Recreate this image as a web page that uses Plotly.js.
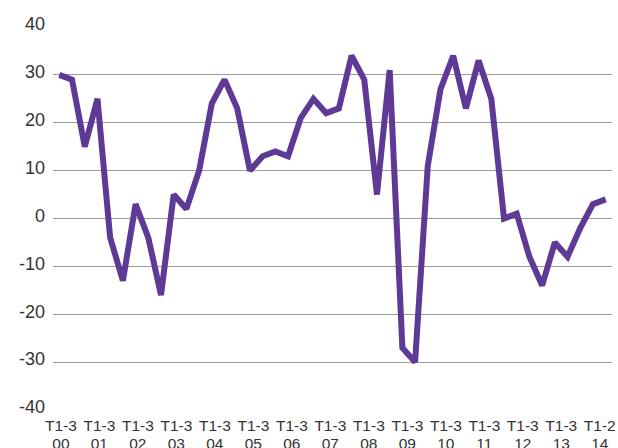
<!DOCTYPE html>
<html>
<head>
<meta charset="utf-8">
<script src="https://cdn.plot.ly/plotly-3.0.1.min.js"></script>
<style>html,body{margin:0;padding:0;background:#fff;}#chart{width:618px;height:448px;}</style>
</head>
<body>
<div id="chart"></div>
<script>
// Periods: three four-month periods (T1, T2, T3) per year, 2000 to 2014 T2
const years = ["00","01","02","03","04","05","06","07","08","09","10","11","12","13","14"];
const tickLabels = ["T1-3","T1-3","T1-3","T1-3","T1-3","T1-3","T1-3","T1-3","T1-3","T1-3","T1-3","T1-3","T1-3","T1-3","T1-2"];
const yTicks = [-40, -30, -20, -10, 0, 10, 20, 30, 40];
const yTickText = ["-40", "-30", "-20", "-10", "0", "10", "20", "30", "40"];
const values = [
  30, 29, 15,
  25, -4, -13,
  3, -4, -16,
  5, 2, 10,
  24, 29, 23,
  10, 13, 14,
  13, 21, 25,
  22, 23, 34,
  29, 5, 31,
  -27, -30, 11,
  27, 34, 23,
  33, 25, 0,
  1, -8, -14,
  -5, -8, -2,
  3, 4
];

const xIdx = values.map((_, i) => i);
const tickPos = years.map((_, i) => 0.12 + i * 3.03);

const family = "Liberation Sans, Arial, Helvetica, sans-serif";
const xFont = {family: family, size: 15.5, color: "#333333"};
const yFont = {family: family, size: 18, color: "#333333"};

const xCommon = {
  range: [-0.5, 43.5],
  showgrid: false,
  zeroline: false,
  showline: false,
  ticks: "",
  tickmode: "array",
  tickvals: tickPos,
  tickfont: xFont,
  automargin: false
};

Plotly.newPlot("chart", [{
  x: xIdx,
  y: values,
  type: "scatter",
  mode: "lines",
  line: {color: "#5f3996", width: 6},
  hoverinfo: "none"
}, {
  // empty helper trace so the year-label axis (second label row) is drawn
  x: [],
  y: [],
  xaxis: "x2",
  yaxis: "y",
  type: "scatter",
  mode: "lines",
  hoverinfo: "none"
}], {
  width: 618,
  height: 448,
  margin: {l: 53, r: 6, t: 27, b: 38, pad: 0},
  paper_bgcolor: "#ffffff",
  plot_bgcolor: "#ffffff",
  showlegend: false,
  font: xFont,
  xaxis: Object.assign({}, xCommon, {
    ticktext: tickLabels,
    ticklabelstandoff: 4
  }),
  xaxis2: Object.assign({}, xCommon, {
    ticktext: years,
    overlaying: "x",
    anchor: "y",
    side: "bottom",
    ticklabelstandoff: 22
  }),
  yaxis: {
    range: [-40, 40],
    tickmode: "array",
    tickvals: yTicks,
    ticktext: yTickText,
    showgrid: true,
    gridcolor: "#9a9a9a",
    gridwidth: 1,
    zeroline: true,
    zerolinecolor: "#9a9a9a",
    zerolinewidth: 1,
    showline: false,
    ticks: "",
    ticklabelstandoff: 7,
    ticklabelshift: -3,
    tickfont: yFont,
    automargin: false
  }
}, {staticPlot: true, displayModeBar: false});
</script>
</body>
</html>
